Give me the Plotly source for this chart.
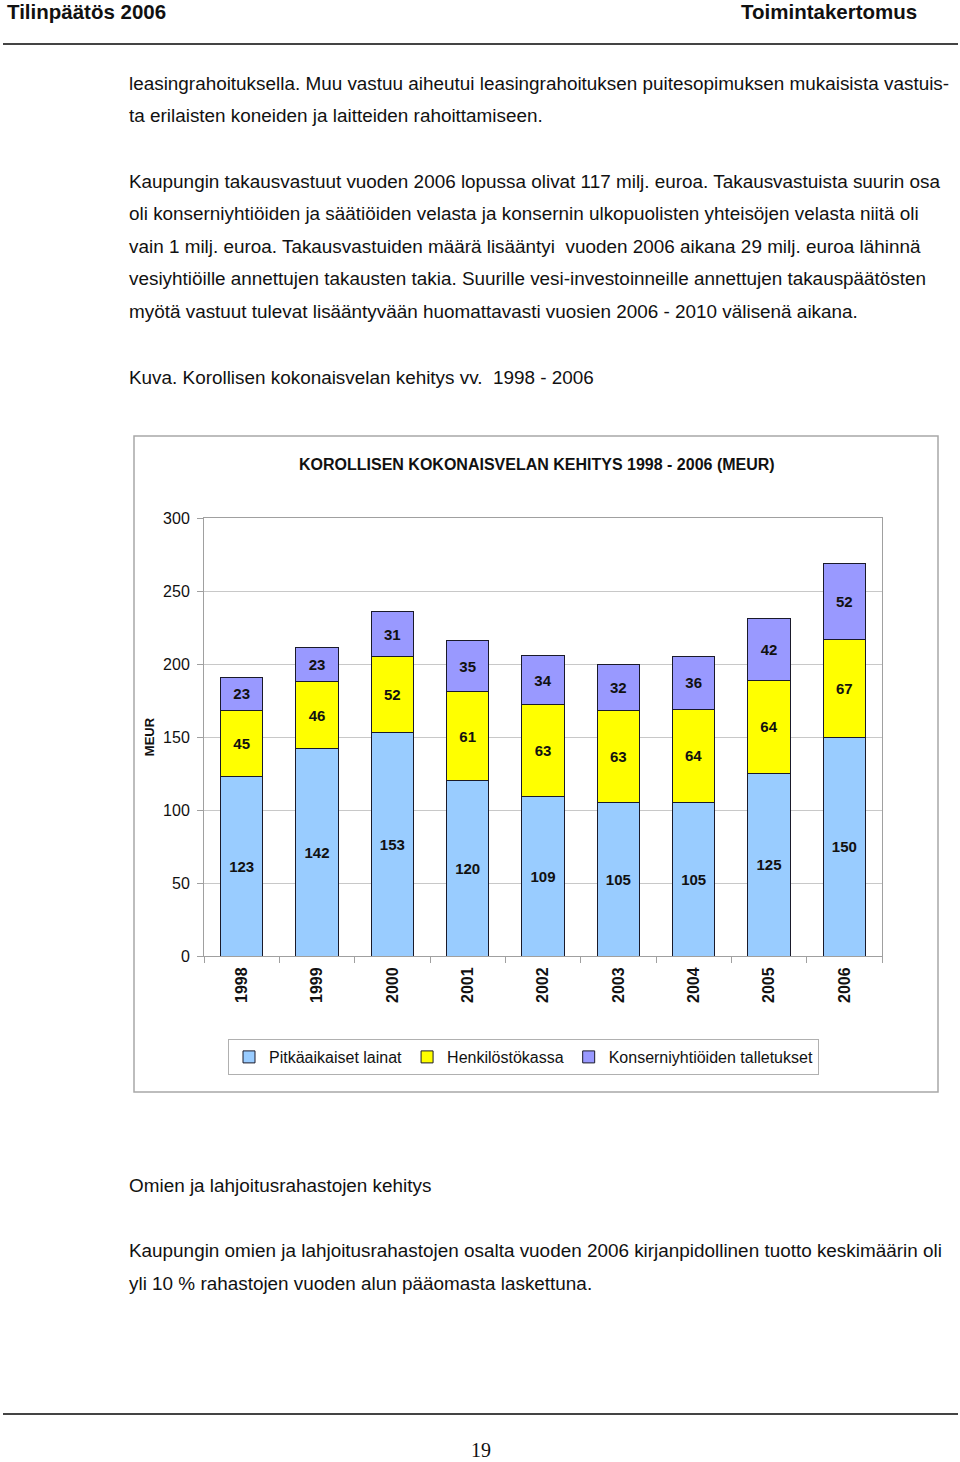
import plotly.graph_objects as go

years = ["1998", "1999", "2000", "2001", "2002", "2003", "2004", "2005", "2006"]
pitkaaikaiset = [123, 142, 153, 120, 109, 105, 105, 125, 150]
henkilostokassa = [45, 46, 52, 61, 63, 63, 64, 64, 67]
konserni = [23, 23, 31, 35, 34, 32, 36, 42, 52]
series_names = ["Pitkäaikaiset lainat", "Henkilöstökassa", "Konserniyhtiöiden talletukset"]
series_colors = ["#99CCFF", "#FFFF00", "#9999FF"]
y_ticks = [0, 50, 100, 150, 200, 250, 300]

W, H = 960, 1462
L, R, T, B = 204, 882, 518, 956


def px(x):
    return (x - L) / (R - L)


def py(y):
    return (B - y) / (B - T)


FONT = "Liberation Sans, Arial, sans-serif"

fig = go.Figure()
for name, vals, col in zip(series_names, [pitkaaikaiset, henkilostokassa, konserni], series_colors):
    fig.add_trace(go.Bar(
        x=years, y=vals, name=name,
        marker=dict(color=col, line=dict(color="#1a1a2a", width=1)),
        width=0.56,
        text=[f"<b>{v}</b>" for v in vals],
        textposition="inside", insidetextanchor="middle",
        textangle=0, constraintext="none",
        textfont=dict(family=FONT, size=15, color="#111111"),
        hoverinfo="skip",
    ))

fig.update_layout(
    barmode="stack",
    width=W, height=H,
    margin=dict(l=L, r=W - R, t=T, b=H - B, autoexpand=False),
    paper_bgcolor="white", plot_bgcolor="white",
    font=dict(family=FONT, color="#111111"),
    showlegend=True,
    legend=dict(
        orientation="h", x=px(228), y=py(1039), xanchor="left", yanchor="top",
        bordercolor="#b0b0b0", borderwidth=1, bgcolor="white",
        font=dict(family=FONT, size=16, color="#111111"),
        traceorder="normal", itemwidth=30,
    ),
    xaxis=dict(
        type="category", showgrid=False, showline=True, linecolor="#a0a0a0",
        mirror=True, ticks="outside", tickson="boundaries", ticklen=6,
        tickcolor="#a0a0a0", tickangle=-90, ticklabelstandoff=4,
        tickfont=dict(family=FONT, size=16, color="#111111", weight="bold"),
    ),
    yaxis=dict(
        range=[0, 300], tickvals=y_ticks, showgrid=True, gridcolor="#c8c8c8",
        showline=True, linecolor="#a0a0a0", mirror=True, ticks="outside",
        ticklen=6, tickcolor="#a0a0a0", ticklabelstandoff=4,
        tickfont=dict(family=FONT, size=16, color="#111111"),
        title=dict(text="<b>MEUR</b>", font=dict(family=FONT, size=13, color="#111111"), standoff=5),
        zeroline=False,
    ),
)

shapes = [
    dict(type="rect", xref="paper", yref="paper", x0=px(134), x1=px(938), y0=py(436), y1=py(1092),
         line=dict(color="#a8a8a8", width=1.5), layer="below"),
    dict(type="line", xref="paper", yref="paper", x0=px(3), x1=px(958), y0=py(44), y1=py(44),
         line=dict(color="#444444", width=2)),
    dict(type="line", xref="paper", yref="paper", x0=px(3), x1=px(958), y0=py(1414), y1=py(1414),
         line=dict(color="#444444", width=2)),
]
fig.update_layout(shapes=shapes)

ann = []


def text(x, y, s, size=18, anchor="left", bold=False, family=FONT):
    ann.append(dict(
        xref="paper", yref="paper", x=px(x), y=py(y), text=(f"<b>{s}</b>" if bold else s),
        showarrow=False, xanchor=anchor, yanchor="middle",
        font=dict(family=family, size=size, color="#111111"),
    ))


text(5, 11, "Tilinpäätös 2006", size=20.5, bold=True)
text(919, 11, "Toimintakertomus", size=20.5, anchor="right", bold=True)

body = [
    (83, "leasingrahoituksella. Muu vastuu aiheutui leasingrahoituksen puitesopimuksen mukaisista vastuis-"),
    (115, "ta erilaisten koneiden ja laitteiden rahoittamiseen."),
    (181, "Kaupungin takausvastuut vuoden 2006 lopussa olivat 117 milj. euroa. Takausvastuista suurin osa"),
    (213, "oli konserniyhtiöiden ja säätiöiden velasta ja konsernin ulkopuolisten yhteisöjen velasta niitä oli"),
    (246, "vain 1 milj. euroa. Takausvastuiden määrä lisääntyi  vuoden 2006 aikana 29 milj. euroa lähinnä"),
    (279, "vesiyhtiöille annettujen takausten takia. Suurille vesi-investoinneille annettujen takauspäätösten"),
    (311, "myötä vastuut tulevat lisääntyvään huomattavasti vuosien 2006 - 2010 välisenä aikana."),
    (377, "Kuva. Korollisen kokonaisvelan kehitys vv.  1998 - 2006"),
    (1185, "Omien ja lahjoitusrahastojen kehitys"),
    (1250, "Kaupungin omien ja lahjoitusrahastojen osalta vuoden 2006 kirjanpidollinen tuotto keskimäärin oli"),
    (1283, "yli 10 % rahastojen vuoden alun pääomasta laskettuna."),
]
for y, s in body:
    text(127, y, s.replace("  ", "&nbsp; "), size=18.9)

text(537, 464, "KOROLLISEN KOKONAISVELAN KEHITYS 1998 - 2006 (MEUR)", size=16, anchor="center", bold=True)
text(481, 1450, "19", size=20, anchor="center", family="Liberation Serif, Times New Roman, serif")

fig.update_layout(annotations=ann)
fig.write_html("out.html", post_script="document.body.style.margin='0';",
               config={"displayModeBar": False})
